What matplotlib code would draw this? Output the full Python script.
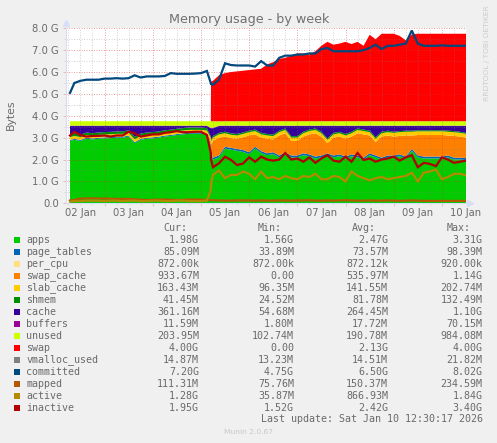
import numpy as np
import matplotlib
matplotlib.use("Agg")
import matplotlib.pyplot as plt
from matplotlib.patches import Rectangle

W, H = 497, 443
BG = "#F0F0F0"
TXT = "#6A6A6A"

# days since 02 Jan 00:00
days = [0.285, 0.375, 0.5, 0.625, 0.75, 0.875,
        1.0, 1.125, 1.25, 1.375, 1.5, 1.625, 1.75, 1.875,
        2.0, 2.125, 2.25, 2.375, 2.5, 2.625, 2.75, 2.875,
        3.0, 3.125, 3.205, 3.21, 3.25, 3.375, 3.5, 3.625, 3.75, 3.875,
        4.0, 4.125, 4.25, 4.375, 4.5, 4.625, 4.75, 4.875,
        5.0, 5.125, 5.25, 5.375, 5.5, 5.625, 5.75, 5.875,
        6.0, 6.125, 6.25, 6.375, 6.5, 6.625, 6.75, 6.875,
        7.0, 7.125, 7.25, 7.375, 7.5, 7.625, 7.75, 7.875,
        8.0, 8.125, 8.25, 8.375, 8.5]

# stacked series, in G
apps = [2.85, 2.9, 2.85, 2.95, 2.92, 2.95,
        2.97, 2.98, 3.0, 3.0, 3.05, 2.75, 2.9, 2.95,
        2.97, 3.0, 3.05, 3.08, 3.12, 3.15, 3.18, 3.18,
        3.18, 3.15, 2.6, 2.3, 2.0, 2.1, 2.5, 2.45, 2.4, 2.35,
        2.25, 2.5, 2.3, 2.2, 2.25, 2.1, 2.25, 2.1,
        2.1, 2.2, 2.15, 2.05, 2.1, 2.2, 2.1, 2.15,
        2.05, 2.15, 2.1, 2.0, 2.2, 2.1, 2.0, 2.1,
        2.1, 2.15, 2.05, 2.4, 2.1, 2.05, 2.05, 2.05,
        2.05, 2.1, 2.0, 2.0, 1.98]
page_tables = [0.045] * 24 + [0.085] * 45
per_cpu = [0.00085] * 69
swap_cache = [0.0] * 22 + [
        0.0, 0.0, 0.15, 0.3, 0.765, 0.815, 0.465, 0.445, 0.465, 0.585,
        0.765, 0.565, 0.615, 0.665, 0.585, 0.915, 0.865, 0.665,
        0.665, 0.765, 0.915, 1.065, 0.865, 0.465, 0.815, 0.815,
        0.815, 0.815, 1.015, 1.065, 0.815, 0.615, 0.965, 0.915,
        0.865, 0.845, 0.965, 0.615, 0.935, 0.985, 0.985, 0.985,
        0.985, 0.915, 0.995, 0.965, 0.935]
slab_cache = [0.13] * 24 + [0.15] * 32 + [0.17] * 13
shmem = [0.11] * 24 + [0.07] * 32 + [0.05] * 13
cache = [0.395, 0.345, 0.395, 0.295, 0.325, 0.295,
         0.275, 0.265, 0.245, 0.245, 0.195, 0.495, 0.345, 0.295,
         0.275, 0.245, 0.195, 0.165, 0.125, 0.095, 0.065, 0.065,
         0.065, 0.095, 0.375, 0.525, 0.36, 0.31, 0.26, 0.33, 0.36, 0.29,
         0.21, 0.16, 0.31, 0.36, 0.39, 0.21, 0.11, 0.46,
         0.46, 0.26, 0.16, 0.11, 0.26, 0.56, 0.31, 0.26,
         0.36, 0.26, 0.11, 0.16, 0.21, 0.51, 0.26, 0.21,
         0.26, 0.23, 0.21, 0.21, 0.19, 0.19, 0.19, 0.19,
         0.19, 0.21, 0.23, 0.26, 0.31]
buffers = [0.02] * 69
unused = [0.2] * 24 + [0.3, 0.3, 0.3] + [0.2] * 42
swap = [0.0] * 25 + [
        1.8, 1.85, 2.1, 2.2, 2.25, 2.28, 2.31,
        2.34, 2.37, 2.4, 2.6, 2.7, 2.85, 2.9, 3.0,
        3.1, 3.1, 3.05, 3.2, 3.45, 3.63, 3.5, 3.55,
        3.63, 3.53, 3.63, 3.45, 3.95, 3.75, 4.0, 4.0,
        4.0, 3.9, 3.7, 3.97, 4.0, 4.0, 4.0, 4.0,
        4.0, 4.0, 4.0, 4.0, 4.0]

# line series
vmalloc_used = [0.0145] * 69
committed = [5.05, 5.5, 5.6, 5.65, 5.65, 5.65,
             5.7, 5.7, 5.72, 5.7, 5.72, 5.85, 5.75, 5.8,
             5.8, 5.8, 5.82, 5.95, 5.92, 5.92, 5.92, 5.93,
             5.95, 6.05, 5.5, 5.45, 5.42, 5.65, 6.4, 6.32, 6.3, 6.3,
             6.3, 6.25, 6.5, 6.3, 6.3, 6.65, 6.75, 6.75,
             6.8, 6.8, 6.85, 6.85, 7.05, 7.1, 6.95, 6.95,
             6.95, 6.95, 6.95, 7.0, 7.1, 7.25, 7.05, 7.2,
             7.2, 7.25, 7.3, 7.9, 7.3, 7.2, 7.2, 7.2,
             7.22, 7.2, 7.2, 7.2, 7.2]
mapped = [0.13, 0.15, 0.22, 0.22, 0.23, 0.22,
          0.22, 0.21, 0.2, 0.2, 0.2, 0.18, 0.16, 0.15,
          0.16, 0.17, 0.17, 0.16, 0.15, 0.16, 0.17, 0.17,
          0.16, 0.16, 0.14, 0.14, 0.14, 0.13, 0.12, 0.12, 0.13, 0.13,
          0.13, 0.12, 0.13, 0.12, 0.12, 0.13, 0.13, 0.12,
          0.13, 0.13, 0.14, 0.12, 0.12, 0.13, 0.12, 0.13,
          0.14, 0.13, 0.12, 0.12, 0.13, 0.12, 0.12, 0.13,
          0.12, 0.11, 0.12, 0.13, 0.12, 0.11, 0.11, 0.11,
          0.11, 0.11, 0.11, 0.11, 0.11]
active = [0.08, 0.1, 0.1, 0.12, 0.12, 0.12,
          0.1, 0.12, 0.12, 0.1, 0.12, 0.12, 0.1, 0.1,
          0.12, 0.12, 0.1, 0.1, 0.12, 0.12, 0.1, 0.1,
          0.1, 0.12, 0.6, 0.9, 1.3, 1.5, 1.15, 1.3, 1.3, 1.45,
          1.35, 1.1, 1.45, 1.15, 1.2, 1.1, 1.25, 1.15,
          1.1, 1.25, 1.2, 1.35, 1.1, 1.1, 1.25, 1.2,
          1.0, 1.45, 1.25, 1.15, 1.05, 1.15, 1.2, 1.1,
          1.15, 1.2, 1.25, 1.4, 1.0, 1.4, 1.45, 1.55,
          1.1, 1.2, 1.35, 1.35, 1.28]
inactive = [3.1, 3.27, 3.12, 3.05, 3.08, 3.08,
            3.1, 3.05, 3.1, 3.1, 3.27, 3.2, 3.05, 3.1,
            3.15, 3.15, 3.22, 3.25, 3.3, 3.25, 3.25, 3.27,
            3.27, 3.12, 2.3, 2.0, 1.65, 1.83, 2.13, 1.98, 1.75, 1.82,
            2.1, 1.9, 2.13, 2.0, 1.95, 2.0, 2.3, 2.0,
            2.05, 1.9, 2.1, 1.85, 2.05, 2.2, 1.95, 1.9,
            2.13, 1.9, 2.3, 1.98, 2.05, 1.9, 2.0, 2.05,
            2.13, 1.95, 2.1, 2.2, 1.65, 1.85, 1.8, 1.7,
            2.1, 2.0, 1.85, 1.9, 1.95]

stack_names = ["apps", "page_tables", "per_cpu", "swap_cache", "slab_cache",
               "shmem", "cache", "buffers", "unused", "swap"]
stack_colors = ["#00CC00", "#0066B3", "#FFDE80", "#FF8000", "#FFCC00",
                "#008F00", "#330099", "#990099", "#CCFF00", "#FF0000"]

# legend table
legend_names = stack_names + ["vmalloc_used", "committed", "mapped", "active", "inactive"]
legend_colors = stack_colors + ["#808080", "#00487D", "#B35A00", "#B38A00", "#B30000"]
cur = ["1.98G", "85.09M", "872.00k", "933.67M", "163.43M", "41.45M", "361.16M", "11.59M",
       "203.95M", "4.00G", "14.87M", "7.20G", "111.31M", "1.28G", "1.95G"]
min_ = ["1.56G", "33.89M", "872.00k", "0.00", "96.35M", "24.52M", "54.68M", "1.80M",
        "102.74M", "0.00", "13.23M", "4.75G", "75.76M", "35.87M", "1.52G"]
avg = ["2.47G", "73.57M", "872.12k", "535.97M", "141.55M", "81.78M", "264.45M", "17.72M",
       "190.78M", "2.13G", "14.51M", "6.50G", "150.37M", "866.93M", "2.42G"]
max_ = ["3.31G", "98.39M", "920.00k", "1.14G", "202.74M", "132.49M", "1.10G", "70.15M",
        "984.08M", "4.00G", "21.82M", "8.02G", "234.59M", "1.84G", "3.40G"]

day_labels = ["02 Jan", "03 Jan", "04 Jan", "05 Jan", "06 Jan",
              "07 Jan", "08 Jan", "09 Jan", "10 Jan"]
y_labels = ["0.0", "1.0 G", "2.0 G", "3.0 G", "4.0 G", "5.0 G", "6.0 G", "7.0 G", "8.0 G"]


def px(x, y):
    return x / W, 1 - y / H


fig = plt.figure(figsize=(W / 100, H / 100), dpi=100, facecolor=BG)
ax = fig.add_axes([66 / W, 1 - 203.3 / H, 400 / W, 175 / H], facecolor="white")

ax.stackplot(days, apps, page_tables, per_cpu, swap_cache, slab_cache, shmem,
             cache, buffers, unused, swap, colors=stack_colors, linewidth=0)
for values, color, lw in [(vmalloc_used, "#808080", 0.7), (committed, "#00487D", 1.6),
                          (mapped, "#B35A00", 1.6), (active, "#B38A00", 1.6),
                          (inactive, "#B30000", 1.6)]:
    ax.plot(days, values, color=color, lw=lw, solid_joinstyle="miter")

ax.set_xlim(0.2012, 8.5)
ax.set_ylim(0, 8)

ax.set_xticks(np.arange(1, 9))
ax.set_xticks(np.arange(0.25, 8.5, 0.25), minor=True)
ax.set_xticklabels([])
ax.set_yticks(np.arange(0, 9))
ax.set_yticks(np.arange(0.5, 8, 1), minor=True)
ax.set_yticklabels(y_labels)

# alpha has to be passed on its own, the rc grid.alpha overrides an rgba colour
ax.set_axisbelow("line")
ax.grid(which="minor", color="#808080", alpha=0.35, ls=(0, (1, 1.5)), lw=0.72)
ax.grid(which="major", color="#D83030", alpha=0.45, ls=(0, (1, 1.5)), lw=0.72)
ax.tick_params(which="major", axis="x", length=2, width=0.6, color="#E8B0B0")
ax.tick_params(which="major", axis="y", length=2, width=0.6, color="#E8B0B0",
               labelsize=7.2, labelcolor=TXT, pad=3)
ax.tick_params(which="minor", length=1.5, width=0.6, color="#D8D8D8")

for s in ["top", "right"]:
    ax.spines[s].set_visible(False)
for s in ["left", "bottom"]:
    ax.spines[s].set_color("#D8DCF4")
    ax.spines[s].set_linewidth(0.8)

# small arrows at the axis ends
ax.plot(0, 1.03, marker="^", ms=4, color="#D8DEF8", transform=ax.transAxes, clip_on=False)
ax.plot(1.01, 0, marker=">", ms=4, color="#D8DEF8", transform=ax.transAxes, clip_on=False)

for i, label in enumerate(day_labels):
    ax.text(0.5 + i, -0.055, label, transform=ax.get_xaxis_transform(), ha="center",
            va="center", fontsize=7.2, color=TXT, clip_on=False)

fig.text(*px(249, 19), "Memory usage - by week", ha="center", va="center",
         fontsize=9.2, color="#707070")
fig.text(*px(10.5, 115), "Bytes", rotation=90, ha="center", va="center",
         fontsize=7.8, color=TXT)
fig.text(*px(487, 53), "RRDTOOL / TOBI OETIKER", rotation=90, ha="center", va="center",
         fontsize=5.4, color="#CCCCCC")

# legend block
mono = dict(family="DejaVu Sans Mono", fontsize=7.17, color=TXT, va="center")
for x, head in [(163, "Cur:"), (258, "Min:"), (352, "Avg:"), (447, "Max:")]:
    fig.text(*px(x, 227.7), head, ha="left", **mono)
for i, name in enumerate(legend_names):
    y = 240 + i * 12
    fig.patches.append(Rectangle((14 / W, 1 - (y + 3) / H), 6 / W, 6 / H,
                                 transform=fig.transFigure, color=legend_colors[i], lw=0))
    fig.text(*px(26.3, y), name, ha="left", **mono)
    for x, col in [(199, cur), (294, min_), (388, avg), (482.7, max_)]:
        fig.text(*px(x, y), col[i], ha="right", **mono)

fig.text(*px(482.7, 419.5), "Last update: Sat Jan 10 12:30:17 2026", ha="right", **mono)
fig.text(*px(248, 432), "Munin 2.0.67", ha="center", va="center", fontsize=5.4, color="#C8C8C8")

fig.savefig("out.png", dpi=100, facecolor=BG)
